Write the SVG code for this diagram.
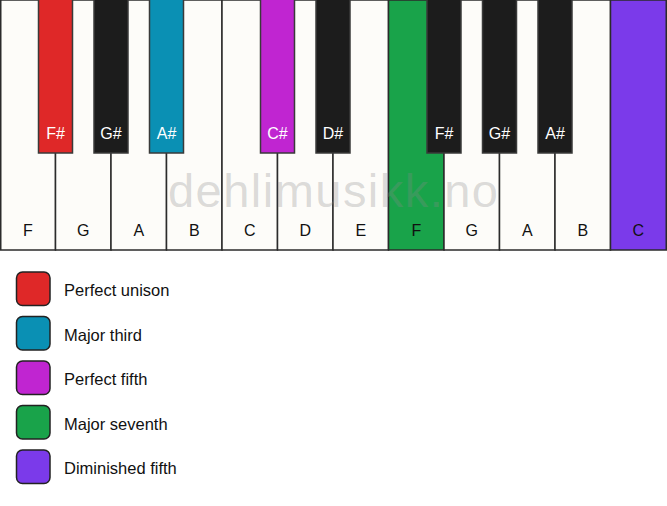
<svg xmlns="http://www.w3.org/2000/svg" width="667" height="506" viewBox="0 0 667 506">
<style>
.w{fill:#fdfcf9;stroke:#2b2b2b;stroke-width:1.5}
.b{fill:#1c1c1c;stroke:#3a3a3a;stroke-width:1.5}
.wl{font-family:"Liberation Sans",Arial,sans-serif;font-size:16px;fill:#111;text-anchor:middle}
.bl{font-family:"Liberation Sans",Arial,sans-serif;font-size:16px;fill:#ffffff;text-anchor:middle}
.lg{stroke:#222;stroke-width:1.5}
.lt{font-family:"Liberation Sans",Arial,sans-serif;font-size:16.5px;fill:#111}
.wm{font-family:"Liberation Sans",Arial,sans-serif;font-size:47px;fill:#8a8a8a;fill-opacity:0.3;text-anchor:middle}
</style>
<rect width="667" height="506" fill="#ffffff"/>
<g id="white-keys">
<g id="wk-F1"><rect class="w" x="0.75" y="0" width="54.75" height="250"/><text class="wl" x="28" y="236">F</text></g>
<g id="wk-G1"><rect class="w" x="55.5" y="0" width="55.5" height="250"/><text class="wl" x="83.3" y="236">G</text></g>
<g id="wk-A1"><rect class="w" x="111" y="0" width="55.5" height="250"/><text class="wl" x="138.8" y="236">A</text></g>
<g id="wk-B1"><rect class="w" x="166.5" y="0" width="55.5" height="250"/><text class="wl" x="194.3" y="236">B</text></g>
<g id="wk-C1"><rect class="w" x="222" y="0" width="55.5" height="250"/><text class="wl" x="249.8" y="236">C</text></g>
<g id="wk-D1"><rect class="w" x="277.5" y="0" width="55.5" height="250"/><text class="wl" x="305.3" y="236">D</text></g>
<g id="wk-E1"><rect class="w" x="333" y="0" width="55.5" height="250"/><text class="wl" x="360.8" y="236">E</text></g>
<g id="wk-F2"><rect class="w" x="388.5" y="0" width="55.5" height="250" style="fill:#19a34a"/><text class="wl" x="416.3" y="236">F</text></g>
<g id="wk-G2"><rect class="w" x="444" y="0" width="55.5" height="250"/><text class="wl" x="471.8" y="236">G</text></g>
<g id="wk-A2"><rect class="w" x="499.5" y="0" width="55.5" height="250"/><text class="wl" x="527.3" y="236">A</text></g>
<g id="wk-B2"><rect class="w" x="555" y="0" width="55.5" height="250"/><text class="wl" x="582.8" y="236">B</text></g>
<g id="wk-C2"><rect class="w" x="610.5" y="0" width="55.75" height="250" style="fill:#7b3aea"/><text class="wl" x="638.3" y="236">C</text></g>
</g>
<text class="wm" x="333" y="207" textLength="330" lengthAdjust="spacing">dehlimusikk.no</text>
<g id="black-keys">
<g id="bk-Fs1"><rect class="b" x="38.5" y="-1" width="34" height="154" style="fill:#df2828"/><text class="bl" x="55.5" y="139">F#</text></g>
<g id="bk-Gs1"><rect class="b" x="94" y="-1" width="34" height="154"/><text class="bl" x="111" y="139">G#</text></g>
<g id="bk-As1"><rect class="b" x="149.5" y="-1" width="34" height="154" style="fill:#0a90b4"/><text class="bl" x="166.5" y="139">A#</text></g>
<g id="bk-Cs1"><rect class="b" x="260.5" y="-1" width="34" height="154" style="fill:#c025d1"/><text class="bl" x="277.5" y="139">C#</text></g>
<g id="bk-Ds1"><rect class="b" x="316" y="-1" width="34" height="154"/><text class="bl" x="333" y="139">D#</text></g>
<g id="bk-Fs2"><rect class="b" x="427" y="-1" width="34" height="154"/><text class="bl" x="444" y="139">F#</text></g>
<g id="bk-Gs2"><rect class="b" x="482.5" y="-1" width="34" height="154"/><text class="bl" x="499.5" y="139">G#</text></g>
<g id="bk-As2"><rect class="b" x="538" y="-1" width="34" height="154"/><text class="bl" x="555" y="139">A#</text></g>
</g>
<g id="legend">
<g id="lg-unison"><rect class="lg" x="16.5" y="272" width="33.5" height="33.5" rx="6" fill="#df2828"/><text class="lt" x="64" y="296">Perfect unison</text></g>
<g id="lg-third"><rect class="lg" x="16.5" y="316.5" width="33.5" height="33.5" rx="6" fill="#0a90b4"/><text class="lt" x="64" y="340.5">Major third</text></g>
<g id="lg-fifth"><rect class="lg" x="16.5" y="361" width="33.5" height="33.5" rx="6" fill="#c025d1"/><text class="lt" x="64" y="385">Perfect fifth</text></g>
<g id="lg-seventh"><rect class="lg" x="16.5" y="405.5" width="33.5" height="33.5" rx="6" fill="#19a34a"/><text class="lt" x="64" y="429.5">Major seventh</text></g>
<g id="lg-dim"><rect class="lg" x="16.5" y="450" width="33.5" height="33.5" rx="6" fill="#7b3aea"/><text class="lt" x="64" y="474">Diminished fifth</text></g>
</g>
<g id="connectors"/>
</svg>
